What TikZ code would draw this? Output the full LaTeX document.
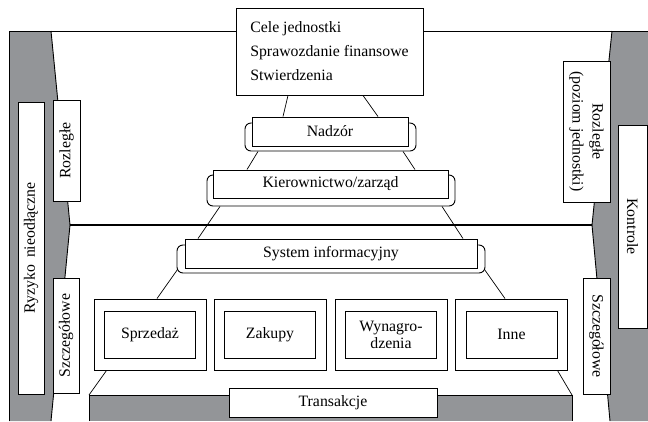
\documentclass[tikz,border=0pt]{standalone}
\usepackage{fontspec}
\setmainfont{Liberation Serif}
\usetikzlibrary{calc}
\definecolor{gr}{RGB}{147,149,152}
\begin{document}
\begin{tikzpicture}[x=1pt,y=-1pt,
  every node/.style={font=\fontsize{15.8}{19}\selectfont},
  box/.style={draw, fill=white, line width=0.9pt, inner sep=0pt, align=center},
  brk/.style={draw, fill=white, line width=0.9pt, rounded corners=6pt, inner sep=0pt},
  link/.style={line width=0.7pt},
  frame/.style={line width=0.9pt}]
\useasboundingbox (0,0) rectangle (648,421);
% grey side regions
\fill[gr] (9,31) -- (51,31) -- (70,225) -- (51,421) -- (9,421) -- cycle;
\fill[gr] (612,31) -- (648,31) -- (648,421) -- (610,421) -- (592,225) -- cycle;
\draw[frame] (51,31) -- (70,225) -- (51,421);
\draw[frame] (612,31) -- (592,225) -- (610,421);
\draw[frame] (9,421) -- (9,31) -- (648,31);
% horizontal divider
\draw[line width=1.8pt] (70,225) -- (592,225);
% bottom grey base
\coordinate (bl) at (89,395);
\coordinate (br) at (572,395);
\fill[gr] (bl) rectangle (572,421);
\draw[frame] (89,421) -- (bl) -- (br) -- (572,421);

% pyramid boxes
\node[box, minimum width=187pt, minimum height=87pt, align=left,
      font=\fontsize{15.8}{24}\selectfont] (top) at (329.5,51.5)
      {Cele jednostki\\Sprawozdanie finansowe\\Stwierdzenia};
\node[brk, minimum width=171pt, minimum height=28pt] (nadb) at (330.5,137) {};
\node[box, minimum width=156pt, minimum height=29pt] (nad) at (330,131.5) {Nadzór};
\node[brk, minimum width=248pt, minimum height=31pt] (kierb) at (331,190.5) {};
\node[box, minimum width=235pt, minimum height=28pt] (kier) at (330.5,184) {Kierownictwo/zarząd};
\node[brk, minimum width=308pt, minimum height=28pt] (sysb) at (331,259) {};
\node[box, minimum width=292pt, minimum height=29pt] (sys) at (331,253.5) {System informacyjny};

% transaction boxes
\foreach \n/\x/\t in {s1/150/Sprzedaż, s2/270/Zakupy, s3/391/{Wynagro-\\dzenia}, s4/511.5/Inne}{
  \node[box, minimum width=112pt, minimum height=71pt] (\n) at (\x,334.5) {};
  \node[box, minimum width=91pt, minimum height=47pt,
        font=\fontsize{15.8}{17}\selectfont] (\n i) at (\x,334.5) {\t};
}
\node[box, minimum width=208pt, minimum height=29pt] (tr) at (333,402.5) {Transakcje};

% pyramid connectors
\draw[link] ([xshift=-41.5pt]top.south) -- ([xshift=-47pt]nad.north);
\draw[link] ([xshift=33.5pt]top.south) -- ([xshift=48pt]nad.north);
\draw[link] ([xshift=-72.5pt]nadb.south) -- ([xshift=-83.5pt]kier.north);
\draw[link] ([xshift=72.5pt]nadb.south) -- ([xshift=84.5pt]kier.north);
\draw[link] ([xshift=-111pt]kierb.south) -- ([xshift=-133pt]sys.north);
\draw[link] ([xshift=111pt]kierb.south) -- ([xshift=132pt]sys.north);
\draw[link] ([yshift=4pt,xshift=1pt]sysb.south west) -- ([xshift=7pt]s1.north);
\draw[link] ([yshift=4pt,xshift=-1pt]sysb.south east) -- ([xshift=-6.5pt]s4.north);
\draw[link] ([xshift=13pt]s1.south west) -- (bl);
\draw[link] ([xshift=-10.5pt]s4.south east) -- (br);

% side labels
\node[box, rotate=90, minimum width=292pt, minimum height=26pt] (ryz) at (31,248) {Ryzyko\hspace{0.45em}nieodłączne};
\node[box, rotate=90, minimum width=101pt, minimum height=27pt] (rozl) at (66.5,150.5) {Rozległe};
\node[box, rotate=90, minimum width=115pt, minimum height=26pt] (szl) at (66,335.5) {Szczegółowe};
\node[box, rotate=-90, minimum width=141pt, minimum height=47pt,
      font=\fontsize{15.8}{20}\selectfont] (rozr) at (586.5,131.5) {Rozległe\\(poziom jednostki)};
\node[box, rotate=-90, minimum width=203pt, minimum height=29pt] (kon) at (632.5,226.5) {Kontrole};
\node[box, rotate=-90, minimum width=116pt, minimum height=27pt] (szr) at (596.5,336) {Szczegółowe};
\end{tikzpicture}
\end{document}
